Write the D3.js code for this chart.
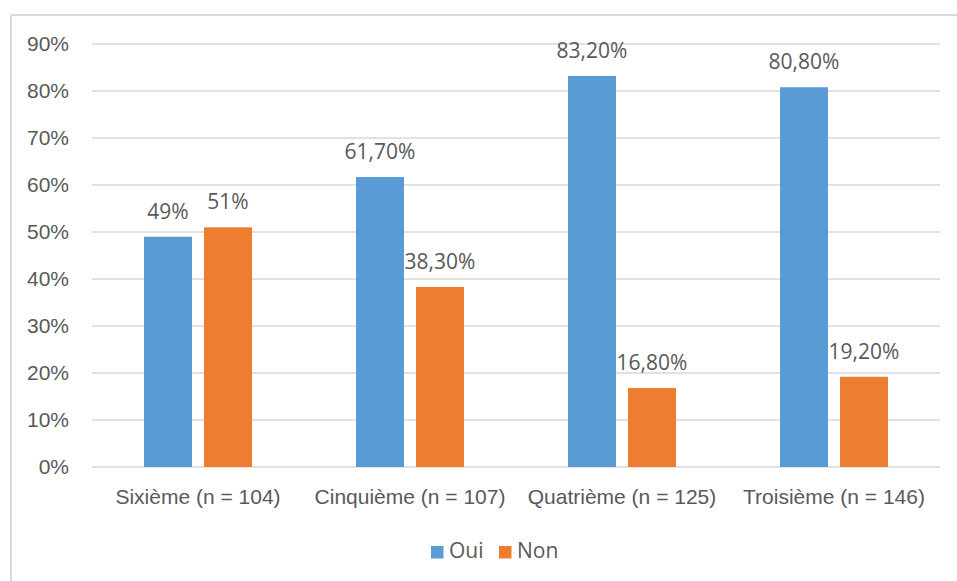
<!DOCTYPE html>
<html>
<head>
<meta charset="utf-8">
<script src="https://cdn.jsdelivr.net/npm/d3@7"></script>
<style>
  html, body { margin: 0; padding: 0; background: #fff; }
  svg { display: block; font-family: "Open Sans", "Noto Sans", sans-serif; }
</style>
</head>
<body>
<svg id="chart" width="957" height="581"></svg>
<script>
// Categories (school year with sample size) and answer shares in percent
const categories = ["Sixième (n = 104)", "Cinquième (n = 107)", "Quatrième (n = 125)", "Troisième (n = 146)"];
const seriesNames = ["Oui", "Non"];
const ouiValues = [49, 61.7, 83.2, 80.8];
const nonValues = [51, 38.3, 16.8, 19.2];
const ouiLabels = ["49%", "61,70%", "83,20%", "80,80%"];
const nonLabels = ["51%", "38,30%", "16,80%", "19,20%"];
const yTicks = [0, 10, 20, 30, 40, 50, 60, 70, 80, 90];
const colors = ["#5B9BD5", "#ED7D31"];

const svg = d3.select("#chart");
const textColor = "#595959";
const fontSize = 21;

// Outer chart frame
svg.append("rect")
  .attr("x", 11).attr("y", 15)
  .attr("width", 960).attr("height", 600)
  .attr("fill", "none").attr("stroke", "#d9d9d9").attr("stroke-width", 2);

const plot = { left: 92, right: 940, top: 44, bottom: 467 };

const x = d3.scaleBand().domain(categories).range([plot.left, plot.right]);
const y = d3.scaleLinear().domain([0, 90]).range([plot.bottom, plot.top]);

// Gridlines
svg.append("g").selectAll("line").data(yTicks).join("line")
  .attr("x1", plot.left).attr("x2", plot.right)
  .attr("y1", d => y(d)).attr("y2", d => y(d))
  .attr("stroke", "#d9d9d9").attr("stroke-width", 1.5);

// Y axis labels
const yAxis = d3.axisLeft(y).tickValues(yTicks).tickFormat(d => d + "%").tickSize(0).tickPadding(23);
const yG = svg.append("g").attr("transform", `translate(${plot.left},0)`).call(yAxis);
yG.select(".domain").remove();
yG.selectAll("text").attr("fill", textColor).style("font-size", fontSize + "px")
  .attr("font-family", null);

// Bars
const barW = 48, gap = 12;
const series = [
  { name: seriesNames[0], values: ouiValues, labels: ouiLabels, color: colors[0], offset: -(gap / 2 + barW) },
  { name: seriesNames[1], values: nonValues, labels: nonLabels, color: colors[1], offset: gap / 2 }
];
const center = c => x(c) + x.bandwidth() / 2;

series.forEach(s => {
  const g = svg.append("g");
  g.selectAll("rect").data(categories).join("rect")
    .attr("x", (c) => center(c) + s.offset)
    .attr("y", (c, i) => y(s.values[i]))
    .attr("width", barW)
    .attr("height", (c, i) => y(0) - y(s.values[i]))
    .attr("fill", s.color);
  g.selectAll("text").data(categories).join("text")
    .attr("x", c => center(c) + s.offset + barW / 2)
    .attr("y", (c, i) => y(s.values[i]) - 18)
    .attr("text-anchor", "middle")
    .attr("fill", textColor)
    .style("font-size", fontSize + "px")
    .text((c, i) => s.labels[i]);
});

// Category axis labels
const xAxis = d3.axisBottom(x).tickSize(0).tickPadding(22);
const xG = svg.append("g").attr("transform", `translate(0,${plot.bottom})`).call(xAxis);
xG.select(".domain").remove();
xG.selectAll("text").attr("fill", textColor).style("font-size", fontSize + "px")
  .attr("font-family", null);

// Legend
const legend = svg.append("g");
const legendX = [431, 499];
seriesNames.forEach((name, i) => {
  legend.append("rect")
    .attr("x", legendX[i]).attr("y", 546)
    .attr("width", 12.5).attr("height", 12.5)
    .attr("fill", colors[i]);
  legend.append("text")
    .attr("x", legendX[i] + 18).attr("y", 558)
    .attr("fill", textColor)
    .style("font-size", fontSize + "px")
    .text(name);
});
</script>
</body>
</html>
